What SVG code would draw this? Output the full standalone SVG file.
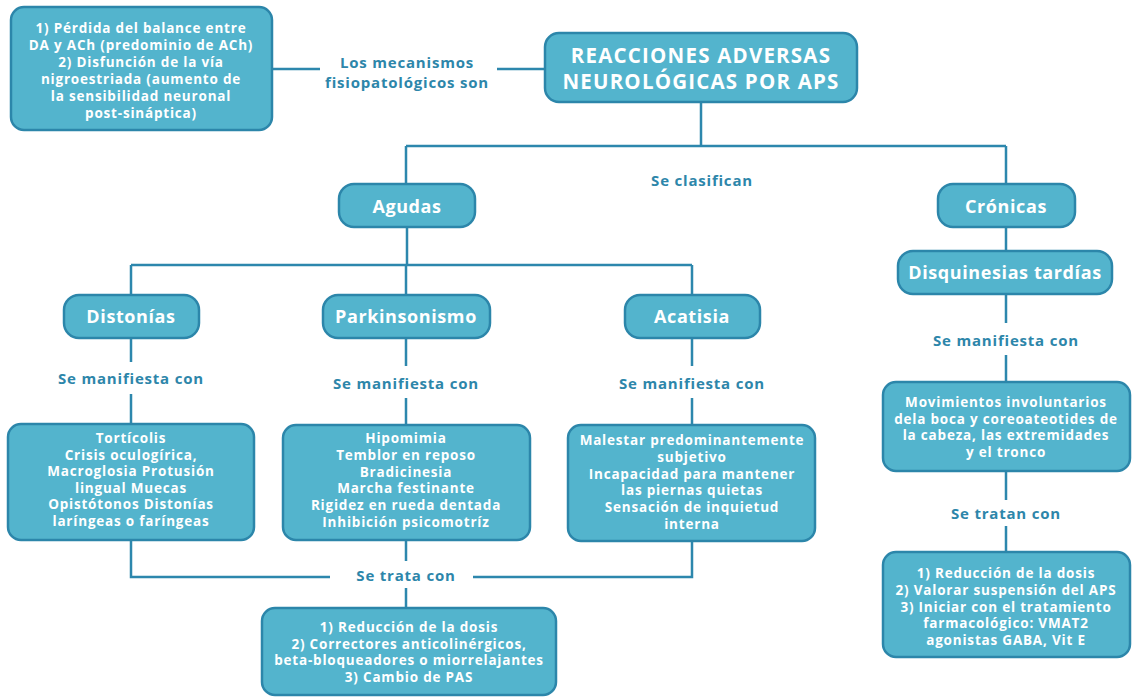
<svg xmlns="http://www.w3.org/2000/svg" width="1133" height="697" viewBox="0 0 1133 697">
<style>
.box{fill:#53b4cd;stroke:#2c86aa;stroke-width:2.5}
.t{font-family:"Open Sans","Liberation Sans",sans-serif;font-weight:700;fill:#ffffff;text-anchor:middle;dominant-baseline:central}
.s{font-size:13.5px;letter-spacing:0.8px}
.n{font-size:18px;letter-spacing:0.6px}
.h{font-size:20.5px;letter-spacing:1.2px}
.lab{font-family:"Open Sans","Liberation Sans",sans-serif;font-weight:700;fill:#2d86aa;text-anchor:middle;dominant-baseline:central;font-size:15px;letter-spacing:0.8px}
.c{fill:none;stroke:#2d87ad;stroke-width:2.5}
</style>
<rect width="1133" height="697" fill="#ffffff"/>
<g id="connectors">
<path class="c" d="M272 69H320M497 69H545"/>
<path class="c" d="M701 102V146M406 146H1006M406 146V184M1006 146V184"/>
<path class="c" d="M407 227V265M131 265H692M131 265V295M406 265V295M692 265V295"/>
<path class="c" d="M131 338V362M131 394V424"/>
<path class="c" d="M406 338V366M406 398V425"/>
<path class="c" d="M692 338V366M692 398V425"/>
<path class="c" d="M131 540V577H330M473 577H692V541"/>
<path class="c" d="M406 540V561M406 588V608"/>
<path class="c" d="M1006 227V251M1006 294V323M1006 355V382M1006 471V500M1006 526V552"/>
</g>
<g id="mecanismos">
<rect class="box" x="11" y="7" width="261" height="123" rx="13"/>
<text class="t s" x="141" y="28">1) Pérdida del balance entre</text>
<text class="t s" x="141" y="45">DA y ACh (predominio de ACh)</text>
<text class="t s" x="141" y="62">2) Disfunción de la vía</text>
<text class="t s" x="141" y="79">nigroestriada (aumento de</text>
<text class="t s" x="141" y="96">la sensibilidad neuronal</text>
<text class="t s" x="141" y="113">post-sináptica)</text>
</g>
<g id="label-mecanismos">
<text class="lab" x="407" y="62">Los mecanismos</text>
<text class="lab" x="407" y="82">fisiopatológicos son</text>
</g>
<g id="main">
<rect class="box" x="545" y="33" width="312" height="69" rx="14"/>
<text class="t h" x="701" y="55">REACCIONES ADVERSAS</text>
<text class="t h" x="701" y="81">NEUROLÓGICAS POR APS</text>
</g>
<g id="label-clasifican"><text class="lab" x="702" y="180">Se clasifican</text></g>
<g id="agudas">
<rect class="box" x="339" y="184" width="136" height="43" rx="15"/>
<text class="t n" x="407" y="206">Agudas</text>
</g>
<g id="cronicas">
<rect class="box" x="938" y="184" width="137" height="43" rx="15"/>
<text class="t n" x="1006" y="206">Crónicas</text>
</g>
<g id="distonias">
<rect class="box" x="64" y="295" width="135" height="43" rx="15"/>
<text class="t n" x="131" y="316">Distonías</text>
</g>
<g id="parkinsonismo">
<rect class="box" x="323" y="295" width="167" height="43" rx="15"/>
<text class="t n" x="406" y="316">Parkinsonismo</text>
</g>
<g id="acatisia">
<rect class="box" x="625" y="295" width="135" height="43" rx="15"/>
<text class="t n" x="692" y="316">Acatisia</text>
</g>
<g id="labels-manifiesta">
<text class="lab" x="131" y="378">Se manifiesta con</text>
<text class="lab" x="406" y="383">Se manifiesta con</text>
<text class="lab" x="692" y="383">Se manifiesta con</text>
<text class="lab" x="1006" y="340">Se manifiesta con</text>
</g>
<g id="distonias-sintomas">
<rect class="box" x="8" y="424" width="246" height="116" rx="13"/>
<text class="t s" x="131" y="438">Tortícolis</text>
<text class="t s" x="131" y="454.6">Crisis oculogírica,</text>
<text class="t s" x="131" y="471.2">Macroglosia Protusión</text>
<text class="t s" x="131" y="487.8">lingual Muecas</text>
<text class="t s" x="131" y="504.4">Opistótonos Distonías</text>
<text class="t s" x="131" y="521">laríngeas o faríngeas</text>
</g>
<g id="parkinsonismo-sintomas">
<rect class="box" x="283" y="425" width="247" height="115" rx="13"/>
<text class="t s" x="406" y="438">Hipomimia</text>
<text class="t s" x="406" y="454.8">Temblor en reposo</text>
<text class="t s" x="406" y="471.6">Bradicinesia</text>
<text class="t s" x="406" y="488.4">Marcha festinante</text>
<text class="t s" x="406" y="505.2">Rigidez en rueda dentada</text>
<text class="t s" x="406" y="522">Inhibición psicomotríz</text>
</g>
<g id="acatisia-sintomas">
<rect class="box" x="568" y="425" width="247" height="116" rx="13"/>
<text class="t s" x="692" y="440">Malestar predominantemente</text>
<text class="t s" x="692" y="456.8">subjetivo</text>
<text class="t s" x="692" y="473.6">Incapacidad para mantener</text>
<text class="t s" x="692" y="490.4">las piernas quietas</text>
<text class="t s" x="692" y="507.2">Sensación de inquietud</text>
<text class="t s" x="692" y="524">interna</text>
</g>
<g id="label-trata"><text class="lab" x="406" y="575">Se trata con</text></g>
<g id="tratamiento-agudas">
<rect class="box" x="262" y="608" width="294" height="87" rx="13"/>
<text class="t s" x="409" y="627">1) Reducción de la dosis</text>
<text class="t s" x="409" y="643.7">2) Correctores anticolinérgicos,</text>
<text class="t s" x="409" y="660.3">beta-bloqueadores o miorrelajantes</text>
<text class="t s" x="409" y="677">3) Cambio de PAS</text>
</g>
<g id="disquinesias">
<rect class="box" x="898" y="251" width="214" height="43" rx="15"/>
<text class="t n" x="1005" y="272">Disquinesias tardías</text>
</g>
<g id="movimientos">
<rect class="box" x="883" y="382" width="247" height="89" rx="13"/>
<text class="t s" x="1006" y="402">Movimientos involuntarios</text>
<text class="t s" x="1006" y="418.7">dela boca y coreoateotides de</text>
<text class="t s" x="1006" y="435.3">la cabeza, las extremidades</text>
<text class="t s" x="1006" y="452">y el tronco</text>
</g>
<g id="label-tratan"><text class="lab" x="1006" y="513">Se tratan con</text></g>
<g id="tratamiento-cronicas">
<rect class="box" x="883" y="552" width="247" height="105" rx="13"/>
<text class="t s" x="1006" y="573">1) Reducción de la dosis</text>
<text class="t s" x="1006" y="589.75">2) Valorar suspensión del APS</text>
<text class="t s" x="1006" y="606.5">3) Iniciar con el tratamiento</text>
<text class="t s" x="1006" y="623.25">farmacológico: VMAT2</text>
<text class="t s" x="1006" y="640">agonistas GABA, Vit E</text>
</g>
</svg>
